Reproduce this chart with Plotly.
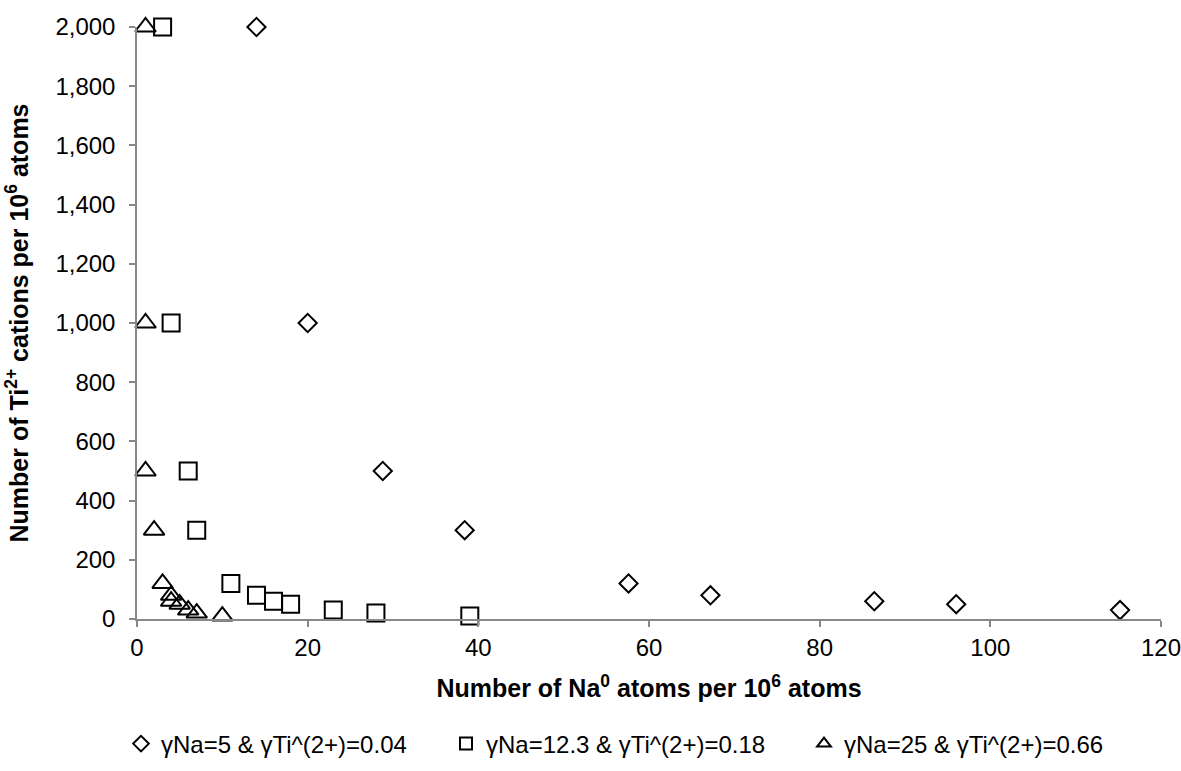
import plotly.graph_objects as go

# Series data
diamond_name = "γNa=5 & γTi^(2+)=0.04"
diamond_x = [14, 20, 28.8, 38.4, 57.6, 67.2, 86.4, 96, 115.2]
diamond_y = [2000, 1000, 500, 300, 120, 80, 60, 50, 30]

square_name = "γNa=12.3 & γTi^(2+)=0.18"
square_x = [3, 4, 6, 7, 11, 14, 16, 18, 23, 28, 39]
square_y = [2000, 1000, 500, 300, 120, 80, 60, 50, 30, 20, 10]

triangle_name = "γNa=25 & γTi^(2+)=0.66"
triangle_x = [1, 1, 1, 2, 3, 4, 4, 5, 6, 7, 10]
triangle_y = [2000, 1000, 500, 300, 120, 80, 60, 50, 30, 20, 10]

x_title = "Number of Na<sup>0</sup> atoms per 10<sup>6</sup> atoms"
y_title = "Number of Ti<sup>2+</sup> cations per 10<sup>6</sup> atoms"

FONT = "Liberation Sans, Arial, sans-serif"
AXIS_COLOR = "#888888"
FS = 24
TFS = 25

fig = go.Figure()

series = [
    (diamond_name, diamond_x, diamond_y, "diamond-open", 14, "legend"),
    (square_name, square_x, square_y, "square-open", 17, "legend2"),
    (triangle_name, triangle_x, triangle_y, "triangle-up-open", 18, "legend3"),
]
for name, xs, ys, sym, size, leg in series:
    fig.add_trace(go.Scatter(
        x=xs, y=ys, mode="markers", name=name, showlegend=True,
        marker=dict(symbol=sym, size=size, color="black", line=dict(width=2, color="black")),
        cliponaxis=False, legend=leg,
    ))

# plot area in px: x 137..1161, y 27..619
L, R, T, B = 137, 20, 27, 152
W, H = 1181, 771

leg_y = 1 - 744 / H

common_leg = dict(orientation="h", yanchor="middle", xanchor="left", y=leg_y,
                  xref="container", yref="container",
                  itemsizing="constant", bgcolor="rgba(0,0,0,0)",
                  font=dict(family=FONT, size=FS, color="black"))

fig.update_layout(
    width=W, height=H,
    showlegend=True,
    margin=dict(l=L, r=R, t=T, b=B, autoexpand=False),
    paper_bgcolor="white", plot_bgcolor="white",
    font=dict(family=FONT, size=FS, color="black"),
    legend=dict(x=121 / W, **common_leg),
    legend2=dict(x=446 / W, **common_leg),
    legend3=dict(x=804 / W, **common_leg),
    xaxis=dict(
        range=[0, 120], dtick=20, tick0=0, showgrid=False, zeroline=False,
        showline=True, linecolor=AXIS_COLOR, linewidth=1.5,
        ticks="outside", ticklen=6, tickcolor=AXIS_COLOR, tickwidth=1.5,
        ticklabeloverflow="allow",
        tickfont=dict(family=FONT, size=FS, color="black"),
        title=dict(text="<b>" + x_title + "</b>", standoff=20,
                   font=dict(family=FONT, size=TFS, color="black")),
        automargin=False,
    ),
    yaxis=dict(
        range=[0, 2000], dtick=200, tick0=0, tickformat=",d", showgrid=False, zeroline=False,
        showline=True, linecolor=AXIS_COLOR, linewidth=1.5,
        ticks="outside", ticklen=6, tickcolor=AXIS_COLOR, tickwidth=1.5,
        ticklabelstandoff=9, ticklabeloverflow="allow",
        tickfont=dict(family=FONT, size=FS, color="black"),
        title=dict(text="<b>" + y_title + "</b>", standoff=20,
                   font=dict(family=FONT, size=TFS, color="black")),
        automargin=False,
    ),
)

fig.write_html("out.html", post_script="document.body.style.margin='0';",
               config={"displayModeBar": False})
